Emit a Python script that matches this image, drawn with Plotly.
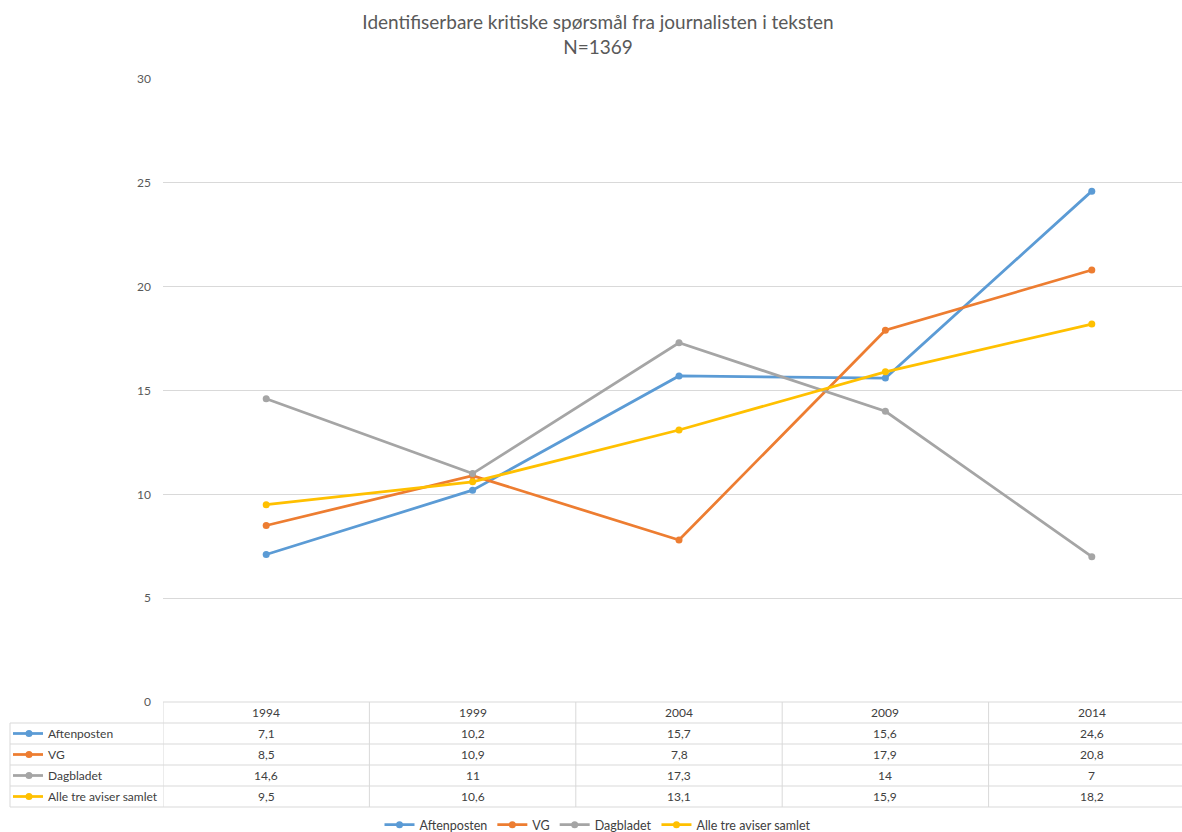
import plotly.graph_objects as go

# ---------------- data ----------------
years = ["1994", "1999", "2004", "2009", "2014"]
series_names = ["Aftenposten", "VG", "Dagbladet", "Alle tre aviser samlet"]
aftenposten = [7.1, 10.2, 15.7, 15.6, 24.6]
vg = [8.5, 10.9, 7.8, 17.9, 20.8]
dagbladet = [14.6, 11, 17.3, 14, 7]
alle_tre = [9.5, 10.6, 13.1, 15.9, 18.2]
y_ticks = [0, 5, 10, 15, 20, 25, 30]

series_values = [aftenposten, vg, dagbladet, alle_tre]
colors = ["#5B9BD5", "#ED7D31", "#A5A5A5", "#FFC000"]

title_text = "Identifiserbare kritiske spørsmål fra journalisten i teksten<br>N=1369"

# ---------------- layout geometry (pixels) ----------------
W, H = 1182, 832
PLOT_L, PLOT_R = 163, 1182
PLOT_T, PLOT_B = 79, 702
FONT = "Lato, 'Open Sans', sans-serif"
TEXT_COL = "#404040"
GRID_COL = "#D9D9D9"

def px_x(px):
    return (px - PLOT_L) / (PLOT_R - PLOT_L)

def px_y(py):
    return (PLOT_B - py) / (PLOT_B - PLOT_T)

x_idx = list(range(len(years)))
col_w = 206.4
x_max = -0.5 + (PLOT_R - PLOT_L) / col_w

fig = go.Figure()
for name, vals, c in zip(series_names, series_values, colors):
    fig.add_trace(go.Scatter(
        x=x_idx, y=vals, name=name, mode="lines+markers",
        line=dict(color=c, width=2.75),
        marker=dict(color=c, size=7),
        cliponaxis=False,
    ))

shapes = []
annotations = []

row_h = 21
header_top = PLOT_B
table_bottom = header_top + row_h * (len(series_names) + 1)
line_style = dict(color=GRID_COL, width=1)

# top border of header row
shapes.append(dict(type="line", xref="paper", yref="paper",
                   x0=0, x1=1.02, y0=px_y(header_top), y1=px_y(header_top), line=line_style))
# row borders
for r in range(len(series_names) + 1):
    yy = px_y(header_top + row_h * (r + 1))
    shapes.append(dict(type="line", xref="paper", yref="paper",
                       x0=px_x(10), x1=1.02, y0=yy, y1=yy, line=line_style))
# vertical borders
shapes.append(dict(type="line", xref="paper", yref="paper",
                   x0=px_x(10), x1=px_x(10), y0=px_y(header_top + row_h), y1=px_y(table_bottom), line=line_style))
for i in range(len(years)):
    shapes.append(dict(type="line", xref="x", yref="paper",
                       x0=i - 0.5, x1=i - 0.5, y0=px_y(header_top), y1=px_y(table_bottom), line=line_style))

# header texts
for i, yr in enumerate(years):
    annotations.append(dict(x=i, xref="x", y=px_y(header_top + row_h / 2), yref="paper",
                            text=yr, showarrow=False, font=dict(size=12, color=TEXT_COL, family=FONT),
                            xanchor="center", yanchor="middle"))

def fmt(v):
    return f"{v:g}".replace(".", ",")

for r, (name, vals, c) in enumerate(zip(series_names, series_values, colors)):
    yc = px_y(header_top + row_h * (r + 1) + row_h / 2)
    # legend key in row header
    shapes.append(dict(type="line", xref="paper", yref="paper",
                       x0=px_x(13), x1=px_x(43), y0=yc, y1=yc, line=dict(color=c, width=2.75)))
    shapes.append(dict(type="circle", xref="paper", yref="paper",
                       x0=px_x(25.5), x1=px_x(32.5), y0=yc - 3.5 / (PLOT_B - PLOT_T), y1=yc + 3.5 / (PLOT_B - PLOT_T),
                       fillcolor=c, line=dict(color=c, width=0)))
    annotations.append(dict(x=px_x(46), xref="paper", y=yc, yref="paper",
                            text=name, showarrow=False, font=dict(size=12, color=TEXT_COL, family=FONT),
                            xanchor="left", yanchor="middle"))
    for i, v in enumerate(vals):
        annotations.append(dict(x=i, xref="x", y=yc, yref="paper",
                                text=fmt(v), showarrow=False, font=dict(size=12, color=TEXT_COL, family=FONT),
                                xanchor="center", yanchor="middle"))

fig.update_layout(
    width=W, height=H,
    margin=dict(l=PLOT_L, r=W - PLOT_R, t=PLOT_T, b=H - PLOT_B, pad=0, autoexpand=False),
    paper_bgcolor="white", plot_bgcolor="white",
    title=dict(text=title_text, x=598 / W, xref="container", xanchor="center",
               y=1 - 29 / H, yref="container", yanchor="middle",
               font=dict(family=FONT, size=19, color="#595959")),
    font=dict(family=FONT, color=TEXT_COL),
    xaxis=dict(range=[-0.5, x_max], showgrid=False, showticklabels=False, zeroline=False,
               showline=False, ticks="", fixedrange=True),
    yaxis=dict(range=[0, 30], tickvals=y_ticks, showgrid=True, gridcolor=GRID_COL, gridwidth=1,
               zeroline=False, showline=False, ticklabelstandoff=11,
               tickfont=dict(size=12, color="#595959", family=FONT)),
    showlegend=True,
    legend=dict(orientation="h", xref="container", x=598 / W, xanchor="center",
                yref="container", y=1 - 825 / H, yanchor="middle",
                font=dict(size=12.5, color=TEXT_COL, family=FONT), itemwidth=30,
                bgcolor="rgba(0,0,0,0)"),
    shapes=shapes,
    annotations=annotations,
)

fig.write_html("out.html", config={"displayModeBar": False},
               post_script="document.body.style.margin='0px';")
